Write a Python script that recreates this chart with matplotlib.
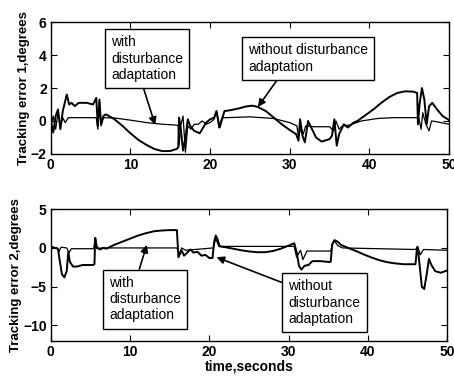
from matplotlib import pyplot as plt
import numpy as np

plt.rcParams['font.family'] = ['Liberation Sans', 'DejaVu Sans']

# --- top panel, tracking error 1 (degrees)
t1_without = [0, 0.3, 0.6, 0.9, 1.2, 1.5, 1.8, 2.0, 2.3, 2.6, 3.0, 3.5, 4.5, 5.3, 5.7, 5.9, 6.1, 6.3, 6.6, 6.9, 7.3,
              8.0, 9.0, 10.0, 11.0, 12.0, 13.0, 14.0, 15.0, 15.8, 16.0, 16.1, 16.3, 16.6, 16.9, 17.2, 17.5,
              18.0, 18.7, 19.5, 20.0, 20.5, 20.8, 21.2, 21.8, 22.5, 23.5, 24.5, 25.3, 26.0, 27.0, 28.0, 29.0,
              30.0, 30.8, 31.1, 31.3, 31.6, 31.9, 32.3, 32.8, 33.3, 34.0, 35.0, 35.3, 35.6, 35.9, 36.2, 36.8,
              37.3, 38.0, 38.5, 39.5, 40.5, 41.5, 42.5, 43.5, 44.5, 45.5, 46.0, 46.1, 46.3, 46.6, 46.9, 47.2,
              47.5, 47.9, 48.5, 49.2, 50.0]
e1_without = [0.0, -0.7, 0.3, 0.7, -0.5, 0.6, 1.2, 1.6, 1.0, 1.1, 0.9, 1.1, 1.1, 1.0, 1.4, -0.3, 1.3, -0.2, 0.3, 0.4, 0.3,
              0.1, -0.3, -0.75, -1.15, -1.45, -1.7, -1.83, -1.82, -1.7, -1.6, 0.2, -0.4, -1.8, -1.0, 0.1, -0.3,
              -0.6, -0.75, -0.1, 0.1, 0.2, 0.6, -0.4, 0.6, 0.65, 0.75, 0.88, 0.93, 0.85, 0.6, 0.2, -0.2,
              -0.55, -0.8, -1.2, 0.1, -0.9, -1.3, 0.0, -0.5, -1.0, -1.25, -1.1, -0.9, 0.1, -1.5, -0.8, -0.2,
              -0.4, -0.1, 0.0, 0.35, 0.7, 1.1, 1.45, 1.7, 1.8, 1.78, 1.7, -0.2, 1.0, 2.0, 1.3, -0.2,
              0.9, 1.1, 0.7, 0.3, 0.05]
t1_with = [0, 0.3, 0.6, 0.9, 1.2, 1.5, 1.8, 2.2, 3.0, 5.0, 5.7, 5.9, 6.1, 6.3, 6.6, 8.0, 10.0, 12.0, 14.0, 15.8,
           16.0, 16.1, 16.3, 16.6, 16.9, 17.2, 17.6, 18.0, 18.5, 19.0, 19.5, 20.0, 20.5, 20.8, 21.1, 21.5, 22.0,
           25.0, 28.0, 30.0, 30.9, 31.1, 31.4, 31.7, 32.0, 33.0, 35.0, 35.5, 35.8, 36.2, 36.6, 37.5, 39.0, 41.0,
           43.0, 45.0, 46.2, 46.5, 46.7, 47.1, 47.5, 47.8, 48.5, 50.0]
e1_with = [-0.3, 0.3, -0.5, 0.5, -0.3, 0.2, -0.1, 0.2, 0.2, 0.2, 0.2, -0.5, 1.2, -0.3, 0.2, 0.18, 0.05, -0.1, -0.2, -0.25,
           -0.3, -1.5, -0.3, 0.3, -1.9, -0.3, -0.5, -0.2, -0.2, 0.0, -0.2, -0.1, 0.1, 0.6, -0.4, 0.2, 0.2,
           0.25, 0.15, -0.1, -0.3, -1.0, -0.4, -0.8, -0.3, -0.35, -0.35, -0.6, 0.0, -0.5, -0.3, -0.25, 0.0, 0.15,
           0.2, 0.2, 0.2, -0.5, 0.5, -0.2, -0.6, 0.0, -0.05, -0.2]

# --- bottom panel, tracking error 2 (degrees)
t2_without = [0, 0.5, 0.9, 1.1, 1.4, 1.7, 2.0, 2.2, 2.4, 2.8, 3.3, 4.0, 5.3, 5.5, 5.6, 5.8, 6.2, 6.6, 7.0, 8.0,
              9.0, 10.0, 11.0, 12.0, 13.0, 14.0, 15.0, 15.9, 16.1, 16.5, 16.8, 17.2, 17.6, 18.0, 18.5, 19.0,
              19.5, 20.0, 20.4, 20.6, 20.8, 21.0, 21.3, 22.0, 23.0, 24.0, 25.0, 26.0, 27.0, 28.0, 29.0, 30.0,
              30.7, 31.0, 31.3, 31.6, 32.0, 32.5, 33.0, 34.0, 35.0, 35.3, 35.5, 35.8, 36.2, 36.6, 37.5, 38.5,
              39.5, 40.5, 41.5, 42.5, 43.5, 44.5, 46.0, 46.2, 46.4, 46.8, 47.1, 47.4, 47.7, 48.0, 48.5, 49.2, 50.0]
e2_without = [0.2, 0.0, -0.1, -1.5, -3.4, -3.8, -3.0, -0.5, -1.8, -2.4, -2.4, -2.2, -2.2, -2.1, 1.3, 0.1, -0.2, 0.0, -0.1, 0.4,
              0.8, 1.2, 1.6, 1.9, 2.15, 2.25, 2.3, 2.3, -1.2, -0.3, -1.0, -0.6, -0.2, -0.6, -0.5, -1.0,
              -0.9, -1.3, -1.3, 0.8, 1.6, 1.2, 0.2, 0.1, -0.1, -0.3, -0.45, -0.55, -0.55, -0.4, -0.1, 0.3,
              0.6, -0.5, -2.3, -2.8, -2.3, -2.2, -1.7, -1.7, -1.8, -1.8, 0.5, 1.0, 0.8, 0.4, 0.0, -0.4,
              -0.85, -1.25, -1.6, -1.85, -2.0, -2.1, -2.1, 0.1, -1.0, -5.0, -5.3, -3.5, -1.4, -2.2, -3.0, -3.2, -2.9]
t2_with = [0, 0.8, 1.0, 1.3, 2.0, 2.3, 2.6, 5.4, 5.6, 5.8, 6.5, 15.9, 16.2, 16.5, 17.0, 20.5, 20.8, 21.2, 21.5,
           30.7, 31.0, 31.5, 31.8, 32.3, 35.3, 35.7, 36.2, 36.8, 46.0, 46.3, 46.6, 47.0, 50.0]
e2_with = [0.0, 0.0, -0.5, 0.1, 0.0, -0.6, -0.1, -0.1, 1.2, -0.1, 0.0, 0.0, -0.8, 0.0, -0.3, 0.0, 1.2, 0.2, 0.2,
           0.2, -1.2, -0.3, -1.5, -0.4, -0.4, 1.0, 0.3, 0.0, -0.2, 0.2, -0.9, -0.2, -0.3]

fig = plt.figure(figsize=(4.54, 3.81), dpi=100)
ax1 = fig.add_axes([0.112, 0.596, 0.877, 0.346])
ax2 = fig.add_axes([0.112, 0.105, 0.873, 0.346])

ax1.plot(t1_without, e1_without, color='k', lw=1.4)
ax1.plot(t1_with, e1_with, color='k', lw=0.9)
ax2.plot(t2_without, e2_without, color='k', lw=1.4)
ax2.plot(t2_with, e2_with, color='k', lw=0.9)

ax1.set_xlim(0, 50)
ax1.set_ylim(-2, 6)
ax1.set_yticks([-2, 0, 2, 4, 6])
ax2.set_xlim(0, 50)
ax2.set_ylim(-12, 5)
ax2.set_yticks([-10, -5, 0, 5])

for ax in (ax1, ax2):
    ax.set_xticks([0, 10, 20, 30, 40, 50])
    ax.tick_params(direction='in', top=True, right=True, length=4, width=0.8, labelsize=10, pad=3)
    for lab in ax.get_xticklabels() + ax.get_yticklabels():
        lab.set_fontweight('bold')
    for s in ax.spines.values():
        s.set_linewidth(1.0)

lblfont = dict(fontsize=9.5, fontweight='bold', family=['Liberation Sans Narrow', 'Liberation Sans'])
ax1.set_ylabel("Tracking error 1,degrees", labelpad=1, **lblfont)
ax2.set_ylabel("Tracking error 2,degrees", labelpad=1, **lblfont)
ax2.set_xlabel("time,seconds", fontsize=10, fontweight='bold', labelpad=0)

box = dict(boxstyle='square,pad=0.45', fc='white', ec='k', lw=1.0)
def arrow(rel):
    return dict(arrowstyle='-|>', color='k', lw=1.2, mutation_scale=11, shrinkA=0, shrinkB=0, relpos=rel)

ax1.annotate("with\ndisturbance\nadaptation", xy=(13.1, -0.24), xytext=(12.1, 3.79),
             ha='center', va='center', multialignment='left', fontsize=10, bbox=box, arrowprops=arrow((0.42, 0)))
ax1.annotate("without disturbance\nadaptation", xy=(26.0, 0.85), xytext=(32.3, 3.79),
             ha='center', va='center', multialignment='left', fontsize=10, bbox=box, arrowprops=arrow((0.28, 0)))
ax2.annotate("with\ndisturbance\nadaptation", xy=(12.1, 0.4), xytext=(11.9, -6.6),
             ha='center', va='center', multialignment='left', fontsize=10, bbox=box, arrowprops=arrow((0.39, 1)))
ax2.annotate("without\ndisturbance\nadaptation", xy=(20.9, -1.2), xytext=(34.5, -7.05),
             ha='center', va='center', multialignment='left', fontsize=10, bbox=box, arrowprops=arrow((0, 0.88)))

plt.savefig("out.png", dpi=100)
